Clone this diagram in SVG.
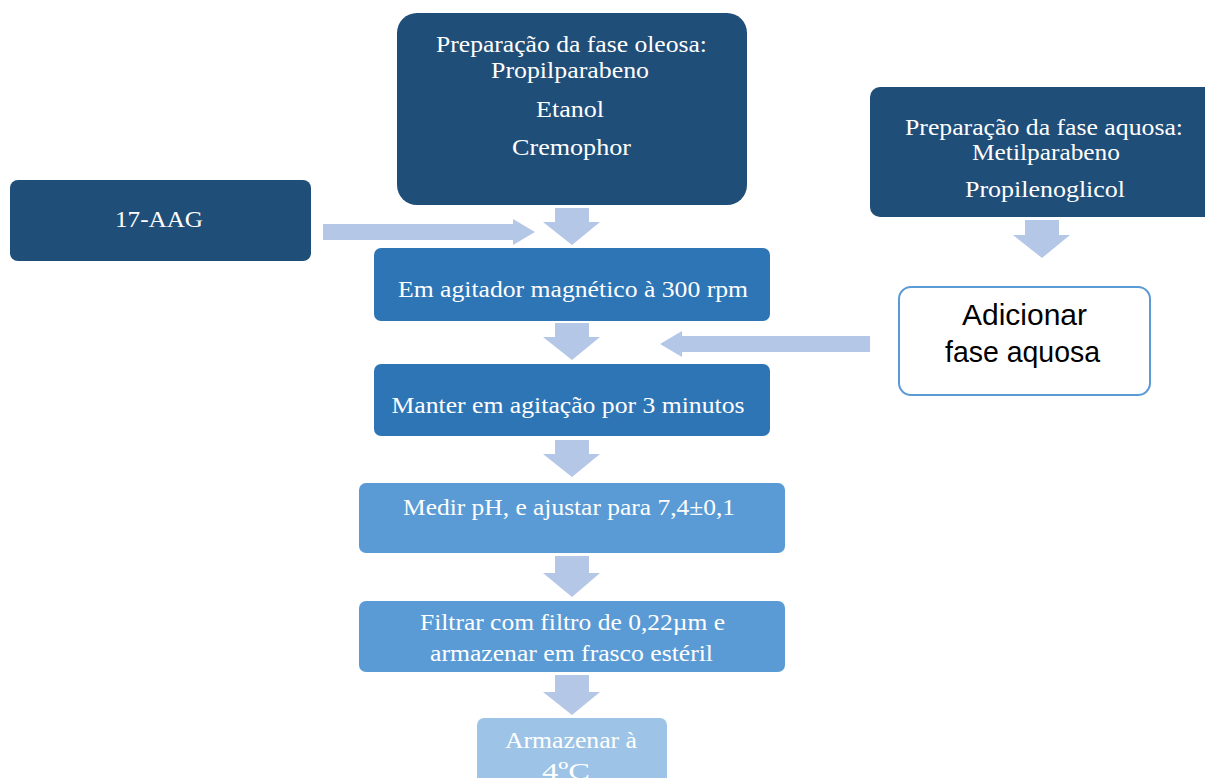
<svg xmlns="http://www.w3.org/2000/svg" width="1205" height="778" viewBox="0 0 1205 778">
<style>
.dark{fill:#1F4E79}
.mid{fill:#2E75B6}
.light{fill:#5B9BD5}
.pale{fill:#9DC3E6}
.t{font-family:"Liberation Serif","Times New Roman",serif;font-size:24px;fill:#ffffff;text-anchor:middle}
.s{font-family:"Liberation Sans",Arial,sans-serif;font-size:29px;fill:#000000;text-anchor:middle}
.arr{fill:#B4C7E7}
</style>
<rect width="1205" height="778" fill="#ffffff"/>
<g id="connectors">
<polygon class="arr" points="555,208 589,208 589,222 600,222 572,245 543,222 555,222"/>
<polygon class="arr" points="323,224 513,224 513,219 535,232 513,245 513,240 323,240"/>
<polygon class="arr" points="555,323 589,323 589,337 600,337 572,360 543,337 555,337"/>
<polygon class="arr" points="870,336 682,336 682,331 660,344 682,357 682,352 870,352"/>
<polygon class="arr" points="555,440 589,440 589,454 600,454 572,477 543,454 555,454"/>
<polygon class="arr" points="555,556 589,556 589,573 600,573 572,597 543,573 555,573"/>
<polygon class="arr" points="555,675 589,675 589,692 600,692 572,715 543,692 555,692"/>
<polygon class="arr" points="1025,220 1059,220 1059,235 1070,235 1042,258 1013,235 1025,235"/>
</g>
<g id="node-oleosa">
<rect class="dark" x="397" y="13" width="350" height="192" rx="20"/>
<text class="t" x="571.5" y="52" textLength="271" lengthAdjust="spacingAndGlyphs">Preparação da fase oleosa:</text>
<text class="t" x="570" y="78" textLength="158" lengthAdjust="spacingAndGlyphs">Propilparabeno</text>
<text class="t" x="570" y="117" textLength="68" lengthAdjust="spacingAndGlyphs">Etanol</text>
<text class="t" x="571.5" y="155" textLength="119" lengthAdjust="spacingAndGlyphs">Cremophor</text>
</g>
<g id="node-17aag">
<rect class="dark" x="10" y="180" width="301" height="81" rx="8"/>
<text class="t" x="159" y="227" textLength="88" lengthAdjust="spacingAndGlyphs">17-AAG</text>
</g>
<g id="node-aquosa">
<rect class="dark" x="870" y="87" width="345" height="130" rx="10"/>
<text class="t" x="1044" y="135" textLength="278" lengthAdjust="spacingAndGlyphs">Preparação da fase aquosa:</text>
<text class="t" x="1046" y="160" textLength="148" lengthAdjust="spacingAndGlyphs">Metilparabeno</text>
<text class="t" x="1045" y="197" textLength="160" lengthAdjust="spacingAndGlyphs">Propilenoglicol</text>
</g>
<g id="node-adicionar">
<rect x="899" y="287" width="251" height="108" rx="12" fill="#ffffff" stroke="#5B9BD5" stroke-width="2"/>
<text class="s" x="1024.5" y="325" textLength="125" lengthAdjust="spacingAndGlyphs">Adicionar</text>
<text class="s" x="1022.5" y="362" textLength="155" lengthAdjust="spacingAndGlyphs">fase aquosa</text>
</g>
<g id="node-agitador">
<rect class="mid" x="374" y="248" width="396" height="73" rx="7"/>
<text class="t" x="573" y="297" textLength="350" lengthAdjust="spacingAndGlyphs">Em agitador magnético à 300 rpm</text>
</g>
<g id="node-manter">
<rect class="mid" x="374" y="364" width="396" height="72" rx="7"/>
<text class="t" x="568" y="413" textLength="353" lengthAdjust="spacingAndGlyphs">Manter em agitação por 3 minutos</text>
</g>
<g id="node-medir">
<rect class="light" x="359" y="483" width="426" height="70" rx="7"/>
<text class="t" x="569" y="515" textLength="332" lengthAdjust="spacingAndGlyphs">Medir pH, e ajustar para 7,4±0,1</text>
</g>
<g id="node-filtrar">
<rect class="light" x="359" y="601" width="426" height="71" rx="7"/>
<text class="t" x="572.5" y="630" textLength="305" lengthAdjust="spacingAndGlyphs">Filtrar com filtro de 0,22µm e</text>
<text class="t" x="571.5" y="661" textLength="283" lengthAdjust="spacingAndGlyphs">armazenar em frasco estéril</text>
</g>
<g id="node-armazenar">
<rect class="pale" x="477" y="718" width="190" height="80" rx="7"/>
<text class="t" x="571" y="748" textLength="132" lengthAdjust="spacingAndGlyphs">Armazenar à</text>
<text class="t" x="566" y="779" textLength="48" lengthAdjust="spacingAndGlyphs">4ºC</text>
</g>
</svg>
